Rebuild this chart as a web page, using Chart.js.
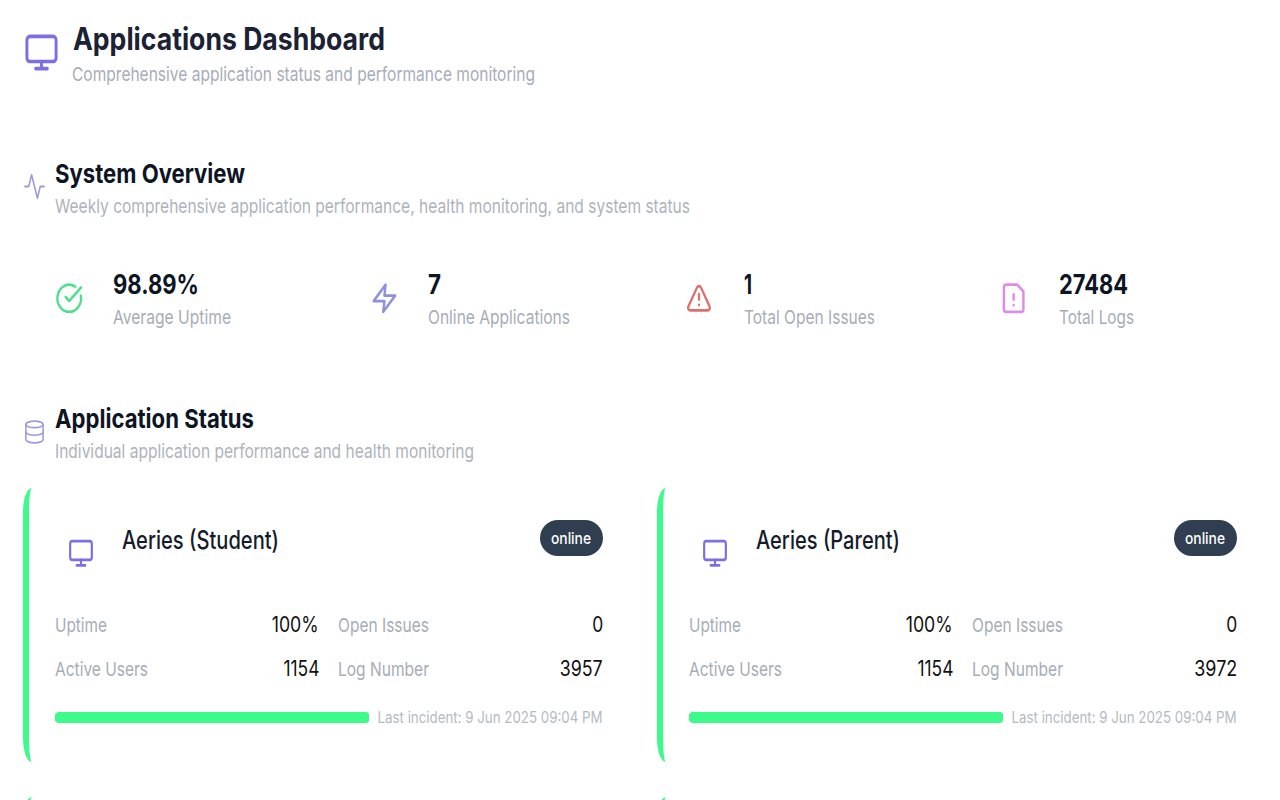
<!DOCTYPE html>
<html>
<head>
<meta charset="utf-8">
<title>Applications Dashboard</title>
<script src="https://cdn.jsdelivr.net/npm/chart.js@4"></script>
<style>
html, body { margin: 0; padding: 0; width: 1280px; height: 800px; overflow: hidden; background: #fff; }
body { position: relative; font-family: Inter, "Noto Sans", sans-serif; }
.t { position: absolute; line-height: 0; white-space: nowrap; }
.icon { position: absolute; fill: none; stroke-linecap: round; stroke-linejoin: round; overflow: visible; }
.card { position: absolute; width: 580px; height: 274px; box-sizing: border-box; border-left: 6px solid #3dfb8b; border-radius: 9px / 24px; }
.pill { position: absolute; width: 63px; height: 36px; background: #2f3e50; border-radius: 18px; }
.bar { position: absolute; width: 314.5px; height: 11px; }
</style>
</head>
<body>
<script>
// values
var appNames = ['Aeries (Student)', 'Aeries (Parent)'];
var uptimeValues = [100, 100];
var openIssues = [0, 0];
var activeUsers = [1154, 1154];
var logNumbers = [3957, 3972];
var lastIncidents = ['9 Jun 2025 09:04 PM', '9 Jun 2025 09:04 PM'];
var appStatus = ['online', 'online'];

var overviewLabels = ['Average Uptime', 'Online Applications', 'Total Open Issues', 'Total Logs'];
var overviewValues = ['98.89%', '7', '1', '27484'];

var INK = '#0d1524', GREY = '#a7adb7', GREEN = '#3dfb8b';

var ICONS = {
    monitor: '<rect x="2" y="3" width="20" height="14" rx="2"/><path d="M8 21h8M12 17v4"/>',
    activity: '<path d="M22 12h-4l-3 9L9 3l-3 9H2"/>',
    database: '<ellipse cx="12" cy="5" rx="9" ry="3"/><path d="M3 5V19A9 3 0 0 0 21 19V5"/><path d="M3 12A9 3 0 0 0 21 12"/>',
    check: '<path d="M21.801 10A10 10 0 1 1 17 3.335"/><path d="m9 11 3 3L22 4"/>',
    zap: '<path d="M13 2 3 14h9l-1 8 10-12h-9l1-8z"/>',
    alert: '<path d="m21.73 18-8-14a2 2 0 0 0-3.48 0l-8 14A2 2 0 0 0 4 21h16a2 2 0 0 0 1.73-3Z"/><path d="M12 9v4M12 17h.01"/>',
    file: '<path d="M15 2H6a2 2 0 0 0-2 2v16a2 2 0 0 0 2 2h12a2 2 0 0 0 2-2V7Z"/><path d="M12 9v4M12 17h.01"/>'
};

// text by its baseline, squeezed to the width it has in the picture
function text(str, x, baseline, size, weight, color, width, right) {
    var el = document.createElement('div');
    el.className = 't';
    el.textContent = str;
    el.style.fontSize = size + 'px';
    el.style.fontWeight = weight;
    el.style.color = color;
    el.style.top = (baseline - 0.3635 * size) + 'px';
    document.body.appendChild(el);
    var sx = width / el.getBoundingClientRect().width;
    if (right) {
        el.style.right = (1280 - x) + 'px';
        el.style.transformOrigin = 'right center';
    } else {
        el.style.left = x + 'px';
        el.style.transformOrigin = 'left center';
    }
    el.style.transform = 'scaleX(' + sx + ')';
}

function icon(name, x, y, w, h, color, sw) {
    var wrap = document.createElement('div');
    wrap.innerHTML = '<svg class="icon" viewBox="0 0 24 24" preserveAspectRatio="none" stroke-width="' + (sw || 2) + '" stroke="' + color +
        '" style="left:' + x + 'px;top:' + y + 'px;width:' + w + 'px;height:' + h + 'px">' + ICONS[name] + '</svg>';
    document.body.appendChild(wrap.firstChild);
}

function box(cls, x, y) {
    var el = document.createElement('div');
    el.className = cls;
    el.style.left = x + 'px';
    el.style.top = y + 'px';
    document.body.appendChild(el);
    return el;
}

// header
icon('monitor', 23.5, 31.4, 35, 43, '#7c6ee6');
text('Applications Dashboard', 72.5, 50.5, 31, 700, '#1a2233', 312);
text('Comprehensive application status and performance monitoring', 72, 82, 19, 400, GREY, 463);

// overview
icon('activity', 23, 171.4, 23, 31, '#9a9ae0', 1.6);
text('System Overview', 54.5, 183, 26, 700, INK, 190);
text('Weekly comprehensive application performance, health monitoring, and system status', 54.5, 214, 19, 400, '#aeb3bd', 635);

var statX = [113, 428, 743.5, 1058.5];
var statValueW = [86, 13, 8, 69];
var statLabelW = [118, 142, 131, 75];
overviewLabels.forEach(function (label, i) {
    text(overviewValues[i], statX[i], 295, 27, 700, INK, statValueW[i]);
    text(label, statX[i], 325, 19, 400, GREY, statLabelW[i]);
});
icon('check', 55, 281.6, 28.4, 32.7, '#4fe08e');
icon('zap', 369.6, 281.6, 28.8, 32.7, '#8f8fe0');
icon('alert', 686, 282.3, 26, 32.4, '#e06c6c');
icon('file', 999.3, 281.6, 29.3, 32.7, '#e08be6');

// application status
icon('database', 23, 419, 23, 26, '#9a9ae0', 1.6);
text('Application Status', 54.5, 428, 26, 700, INK, 199);
text('Individual application performance and health monitoring', 54.5, 459, 19, 400, '#aeb3bd', 419);

// cards
var cardShift = [0, 634];
var titleW = [157, 144];
var upW = 47, usersW = 36, logW = 43;

appNames.forEach(function (name, i) {
    var dx = cardShift[i];
    box('card', 23 + dx, 488);
    icon('monitor', 68 + dx, 537.3, 26, 32.4, '#7c6ee6');
    text(name, 121.5 + dx, 549, 25, 500, '#141c2b', titleW[i]);

    box('pill', 540 + dx, 520);
    text(appStatus[i], 551 + dx, 544, 16, 500, '#ffffff', 40);

    text('Uptime', 55 + dx, 632.5, 19, 400, GREY, 52);
    text(uptimeValues[i] + '%', 319 + dx, 633, 21, 400, '#111111', upW, true);
    text('Open Issues', 338 + dx, 632.5, 19, 400, GREY, 91);
    text(String(openIssues[i]), 603 + dx, 633, 21, 400, '#111111', 11, true);

    text('Active Users', 55 + dx, 677, 19, 400, GREY, 93);
    text(String(activeUsers[i]), 319 + dx, 676.5, 21, 400, '#111111', usersW, true);
    text('Log Number', 338 + dx, 677, 19, 400, GREY, 91);
    text(String(logNumbers[i]), 603 + dx, 676.5, 21, 400, '#111111', logW, true);

    text('Last incident: ' + lastIncidents[i], 603 + dx, 723, 16, 400, '#b5bac2', 225, true);

    // uptime bar
    var holder = box('bar', 54.5 + dx, 712);
    var canvas = document.createElement('canvas');
    holder.appendChild(canvas);
    new Chart(canvas, {
        type: 'bar',
        data: {
            labels: [name],
            datasets: [{
                label: 'Uptime',
                data: [uptimeValues[i]],
                backgroundColor: GREEN,
                borderRadius: 5,
                borderSkipped: false,
                barPercentage: 1,
                categoryPercentage: 1
            }]
        },
        options: {
            indexAxis: 'y',
            responsive: true,
            maintainAspectRatio: false,
            animation: false,
            layout: { padding: 0 },
            plugins: { legend: { display: false }, tooltip: { enabled: false } },
            scales: {
                x: { display: false, min: 0, max: 100 },
                y: { display: false }
            }
        }
    });

    // next row of cards just peeks in at the bottom
    box('card', 23 + dx, 797);
});
</script>
</body>
</html>
